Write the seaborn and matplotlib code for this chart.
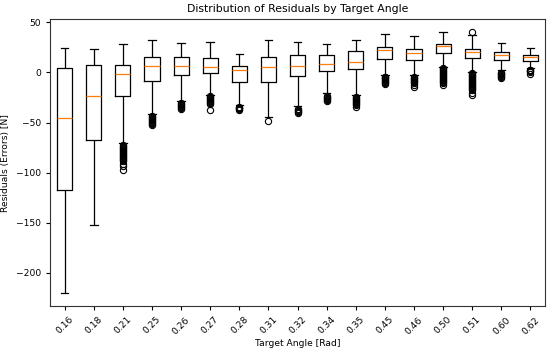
import matplotlib
matplotlib.use("Agg")
import matplotlib.pyplot as plt
import seaborn as sns
import pandas as pd

angles = ["0.16", "0.18", "0.21", "0.25", "0.26", "0.27", "0.28", "0.31", "0.32",
          "0.34", "0.35", "0.45", "0.46", "0.50", "0.51", "0.60", "0.62"]
whislo = [-219.5, -152, -70, -41, -28, -22, -32, -44.3, -33, -20, -22, -3, -3, 5, 0, 2, 4]
q1 = [-117, -67, -23.7, -8.3, -2.3, -0.3, -10, -9.5, -3.7, 1.3, 3.3, 13.7, 12.5, 19, 14, 12.3, 11.7]
med = [-45, -23, -2, 6, 6, 5.7, 2, 5.3, 6.3, 8.3, 10.3, 22.7, 19.3, 26.3, 20.3, 17.7, 15]
q3 = [4.7, 7, 7.7, 15, 15.7, 14.7, 6, 15.7, 17.3, 17.3, 21, 25.3, 23.5, 28.5, 23.5, 20.3, 17.3]
whishi = [24.7, 23, 28.7, 32.7, 29.7, 30.7, 18, 32.7, 30.7, 28, 32.7, 38.7, 36, 40.5, 37, 29.7, 24]
fliers = [
    [],
    [],
    [-72, -73, -74, -75, -76, -77, -78, -79, -80, -81, -82, -83, -84, -85, -86, -87, -88, -91, -93, -97],
    [-43.5, -44, -45, -46, -47, -48, -49, -50, -51, -52],
    [-30, -31, -32, -33, -34, -35, -36],
    [-23.5, -24, -25, -26, -27, -28, -29, -30, -31, -37],
    [-34.5, -35, -35.5, -36, -37],
    [-48.5],
    [-36, -37, -38, -39, -40],
    [-23, -24, -25, -26, -27, -28],
    [-24, -25, -26, -27, -28, -29, -30, -31, -32, -34],
    [-4.5, -5, -6, -7, -8, -9, -10, -11, -12],
    [-5, -6, -7, -8, -9, -10, -11, -13, -15],
    [4, 3, 2, 1, 0, -1, -2, -3, -4, -5, -6, -7, -8, -9, -10, -11, -13],
    [40, -1, -2, -3, -4, -5, -6, -7, -8, -9, -10, -11, -12, -13, -14, -15, -16, -17, -18, -20, -22],
    [-0.5, -1, -2, -3, -4, -5, -6],
    [2.5, 2, 1, 0, -1.5],
]

# Build raw samples whose box statistics reproduce the values read above
BLOCK = 50
rows = []
for i, a in enumerate(angles):
    vals = ([whislo[i]] + [q1[i]] * BLOCK + [med[i]] * BLOCK + [q3[i]] * BLOCK
            + [whishi[i]] + fliers[i])
    rows += [(a, v) for v in vals]
df = pd.DataFrame(rows, columns=["angle", "residual"])

fig, ax = plt.subplots(figsize=(5.5, 3.51), dpi=100)
fig.subplots_adjust(left=0.091, right=0.991, top=0.945, bottom=0.128)

sns.boxplot(data=df, x="angle", y="residual", order=angles, ax=ax,
            fill=False, color="black", width=0.52, linewidth=0.9,
            medianprops={"color": "#ff7f0e", "linewidth": 0.9},
            flierprops={"marker": "o", "markerfacecolor": "none",
                        "markeredgecolor": "black", "markersize": 4.5,
                        "markeredgewidth": 0.8})

ax.set_title("Distribution of Residuals by Target Angle", fontsize=7.8, pad=5)
ax.set_xlabel("Target Angle [Rad]", fontsize=6.6, labelpad=2)
ax.set_ylabel("Residuals (Errors) [N]", fontsize=6.6)
ax.tick_params(axis="both", labelsize=6.6, length=3)
plt.setp(ax.get_xticklabels(), rotation=45)
ax.set_ylim(-233, 53)
ax.set_yticks([50, 0, -50, -100, -150, -200])
for s in ax.spines.values():
    s.set_visible(True)
    s.set_color("#333333")
    s.set_linewidth(0.8)

fig.savefig("out.png", dpi=100)
